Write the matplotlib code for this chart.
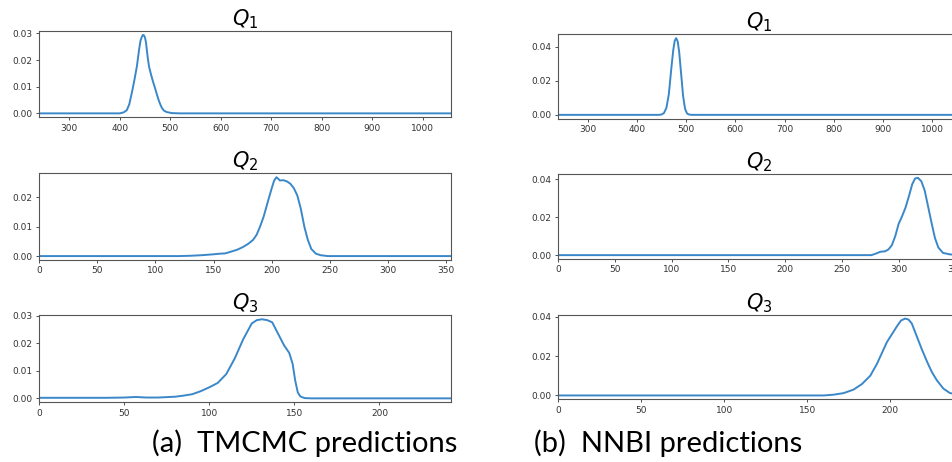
import numpy as np
import matplotlib
matplotlib.use('Agg')
import matplotlib.pyplot as plt
from matplotlib.ticker import MultipleLocator

# (a) TMCMC posterior densities
tm_q1_x = [240, 400, 408, 414, 419, 424, 429, 434, 438, 441, 444, 446, 448, 450, 452, 455,
           458, 462, 466, 470, 474, 477, 480, 483, 487, 493, 503, 520, 1056]
tm_q1_y = [0.0, 0.0, 0.0004, 0.0012, 0.0035, 0.0078, 0.0125, 0.0177, 0.0235, 0.0272, 0.0288, 0.0294,
           0.0292, 0.0284, 0.0265, 0.0215, 0.0175, 0.0145, 0.0118, 0.0094, 0.0068, 0.0050, 0.0035,
           0.0022, 0.0011, 0.0005, 0.0001, 0.0, 0.0]

tm_q2_x = [0, 120, 130, 140, 150, 155, 160, 165, 170, 175, 180, 184, 187, 190, 193, 197, 200,
           202, 204, 205.5, 207, 210, 213, 216, 219, 222, 225, 228, 231, 234, 238, 242, 248, 354]
tm_q2_y = [0.0, 0.0, 0.0001, 0.0003, 0.0006, 0.0008, 0.0009, 0.0015, 0.0021, 0.003, 0.0042, 0.0055,
           0.0072, 0.0100, 0.0133, 0.0189, 0.0230, 0.0255, 0.0267, 0.0262, 0.0256, 0.0257, 0.0253,
           0.0245, 0.0230, 0.0205, 0.0160, 0.0100, 0.0055, 0.0024, 0.0008, 0.0003, 0.0, 0.0]

tm_q3_x = [0, 40, 50, 57, 63, 70, 80, 85, 90, 95, 100, 105, 110, 115, 120, 125, 128, 131, 134,
           137, 140, 144, 147, 149, 150.5, 152, 153.5, 156, 160, 242]
tm_q3_y = [0.0002, 0.0002, 0.0003, 0.0005, 0.0003, 0.0003, 0.0006, 0.0010, 0.0015, 0.0026, 0.0040,
           0.0056, 0.0088, 0.0145, 0.0215, 0.0272, 0.0284, 0.0287, 0.0284, 0.0276, 0.0240, 0.0192,
           0.0165, 0.0125, 0.0065, 0.0022, 0.0007, 0.0001, 0.0, 0.0]

# (b) NNBI posterior densities
nn_q1_x = [240, 445, 450, 455, 460, 465, 470, 474, 477, 480, 483, 486, 490, 494, 498, 502, 506,
           512, 1056]
nn_q1_y = [0.0, 0.0, 0.0002, 0.0010, 0.0040, 0.0120, 0.0270, 0.0380, 0.0435, 0.0450, 0.0430,
           0.0370, 0.0240, 0.0110, 0.0035, 0.0008, 0.0002, 0.0, 0.0]

nn_q2_x = [0, 276, 280, 284, 288, 291, 294, 297, 300, 303, 306, 309, 312, 314.5, 317, 320,
           323, 326, 329, 332, 335, 339, 345, 354]
nn_q2_y = [0.0, 0.0, 0.0008, 0.0018, 0.0020, 0.0030, 0.0052, 0.0100, 0.0165, 0.0205, 0.0250,
           0.0310, 0.0375, 0.0405, 0.0408, 0.0390, 0.0340, 0.0255, 0.0170, 0.0090, 0.0040, 0.0012,
           0.0004, 0.0001]

nn_q3_x = [0, 160, 166, 172, 178, 183, 188, 192, 195, 198, 201, 204, 206.5, 209, 211, 213, 216,
           219, 222, 225, 228, 232, 236, 242]
nn_q3_y = [0.0, 0.0, 0.0004, 0.0012, 0.0030, 0.0058, 0.0100, 0.0160, 0.0215, 0.0270, 0.0310,
           0.0350, 0.0380, 0.0390, 0.0385, 0.0365, 0.0300, 0.0235, 0.0175, 0.0120, 0.0078, 0.0035,
           0.0012, 0.0004]

titles = [r'$Q_1$', r'$Q_2$', r'$Q_3$']
xlims = [(240, 1056), (0, 354), (0, 242)]
xsteps = [100, 50, 50]
captions = ['(a)  TMCMC predictions', '(b)  NNBI predictions']

line_col = '#3a88c9'

fig = plt.figure(figsize=(9.53, 4.62), dpi=100)

# axes boxes in figure fractions (left col, right col is cut by the edge)
left_boxes = [[0.0409, 0.7461, 0.4323, 0.1868],
              [0.0409, 0.4372, 0.4323, 0.1877],
              [0.0409, 0.1292, 0.4323, 0.1883]]
right_boxes = [[0.5855, 0.7431, 0.4218, 0.1827],
               [0.5855, 0.4394, 0.4218, 0.1840],
               [0.5855, 0.1357, 0.4218, 0.1831]]

cols = [
    (left_boxes, [(tm_q1_x, tm_q1_y), (tm_q2_x, tm_q2_y), (tm_q3_x, tm_q3_y)], 0.01),
    (right_boxes, [(nn_q1_x, nn_q1_y), (nn_q2_x, nn_q2_y), (nn_q3_x, nn_q3_y)], 0.02),
]

for boxes, series, ystep in cols:
    for i in range(3):
        ax = fig.add_axes(boxes[i])
        ax.plot(series[i][0], series[i][1], color=line_col, lw=1.4)
        ax.set_xlim(*xlims[i])
        ax.xaxis.set_major_locator(MultipleLocator(xsteps[i]))
        ax.yaxis.set_major_locator(MultipleLocator(ystep))
        ax.set_title(titles[i], fontsize=15, pad=2)
        ax.tick_params(labelsize=6.5, length=2.5, width=0.6, colors='#333333', pad=2)
        for sp in ax.spines.values():
            sp.set_color('#555555')
            sp.set_linewidth(0.8)

fig.text(0.320, 0.040, captions[0], fontsize=21, family=['Lato', 'DejaVu Sans'],
         ha='center', va='center')
fig.text(0.701, 0.040, captions[1], fontsize=21, family=['Lato', 'DejaVu Sans'],
         ha='center', va='center')

fig.savefig('out.png', dpi=100)
